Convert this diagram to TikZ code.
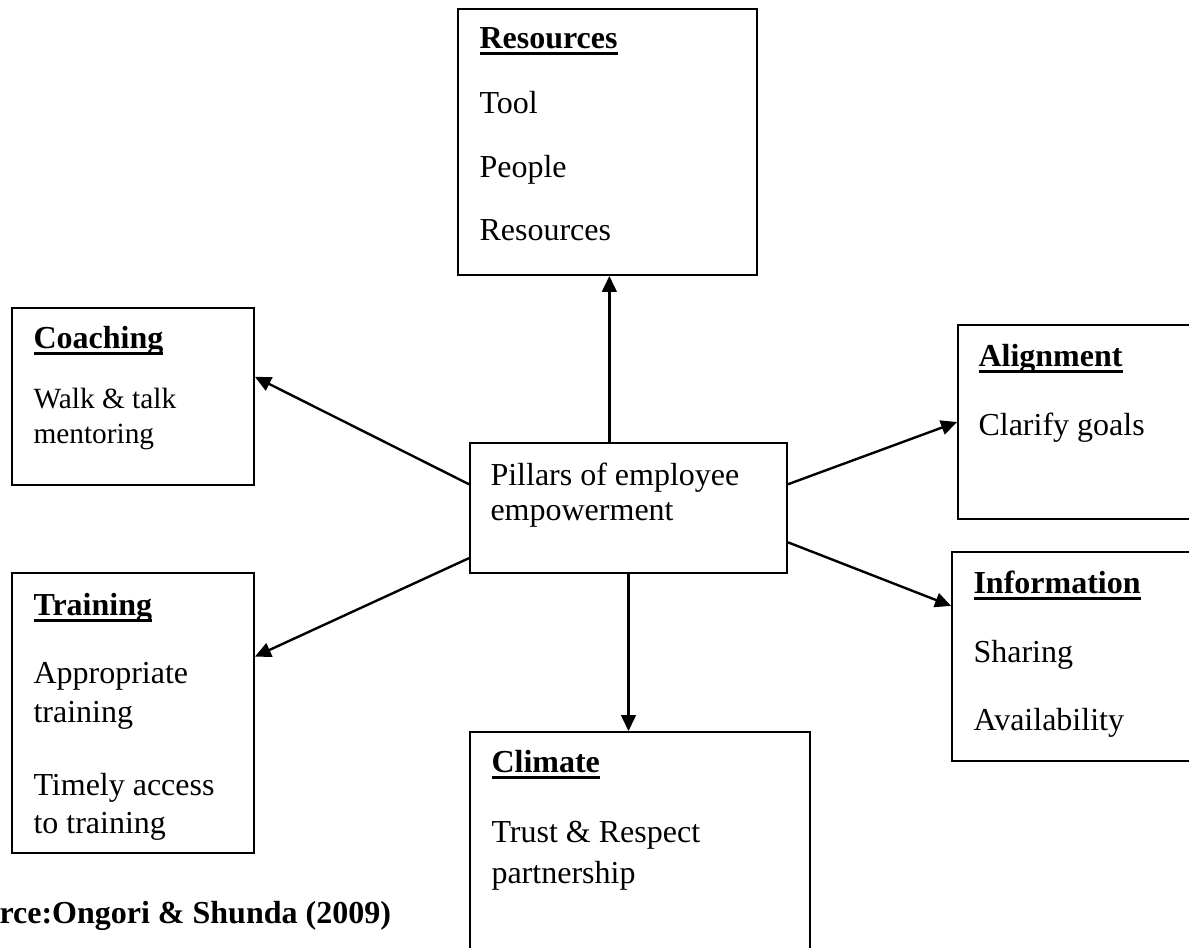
\documentclass[tikz,border=0pt]{standalone}
\usepackage{fontspec}
\setmainfont{Liberation Serif}
\usetikzlibrary{arrows.meta,fit,calc}

% bold heading with a heavy underline
\newcommand\ulhead[1]{\setbox0\hbox{\bfseries #1}\rlap{\rule[-2.8pt]{\wd0}{1.4pt}}\box0}

\tikzset{
  pillar/.style={draw, line width=0.7pt, inner sep=0pt},
  lbl/.style={anchor=base west, inner sep=0pt, font=\fontsize{12}{14}\selectfont},
  small/.style={lbl, font=\fontsize{11}{13}\selectfont},
  link/.style={line width=0.9pt, -{Triangle[length=6pt,width=5.5pt]}}
}

\begin{document}
\begin{tikzpicture}[x=0.375pt, y=-0.375pt]
  \useasboundingbox (0,0) rectangle (1189,947);
  \clip (0,0) rectangle (1189,947);

  % boxes
  \node[pillar, fit={(470,443) (787,573)}] (pil) {};
  \node[pillar, fit={(458,9) (757,275)}] (res) {};
  \node[pillar, fit={(12,308) (254,485)}] (coach) {};
  \node[pillar, fit={(12,573) (254,853)}] (train) {};
  \node[pillar, fit={(470,732) (810,1000)}] (clim) {};
  \node[pillar, fit={(958,325) (1260,519)}] (align) {};
  \node[pillar, fit={(952,552) (1260,761)}] (info) {};

  % texts
  \node[lbl] (pil-a) at (490,485) {Pillars of employee};
  \node[lbl] (pil-b) at (490,520) {empowerment};

  \node[lbl] (res-h) at (479,48) {\ulhead{Resources}};
  \node[lbl] (res-a) at (479,113) {Tool};
  \node[lbl] (res-b) at (479,177) {People};
  \node[lbl] (res-c) at (479,240) {Resources};

  \node[lbl] (coach-h) at (33,348) {\ulhead{Coaching}};
  \node[small] (coach-a) at (33,408) {Walk \& talk};
  \node[small] (coach-b) at (33,443) {mentoring};

  \node[lbl] (train-h) at (33,615) {\ulhead{Training}};
  \node[lbl] (train-a) at (33,683) {Appropriate};
  \node[lbl] (train-b) at (33,722) {training};
  \node[lbl] (train-c) at (33,795) {Timely access};
  \node[lbl] (train-d) at (33,833) {to training};

  \node[lbl] (clim-h) at (491,772) {\ulhead{Climate}};
  \node[lbl] (clim-a) at (491,842) {Trust \& Respect};
  \node[lbl] (clim-b) at (491,883) {partnership};

  \node[lbl] (align-h) at (978,366) {\ulhead{Alignment}};
  \node[lbl] (align-a) at (978,435) {Clarify goals};

  \node[lbl] (info-h) at (973,593) {\ulhead{Information}};
  \node[lbl] (info-a) at (973,662) {Sharing};
  \node[lbl] (info-b) at (973,730) {Availability};

  \node[lbl, font=\fontsize{12}{14}\selectfont\bfseries] (src) at (-1,923) {rce:Ongori \& Shunda (2009)};

  % arrows out of the centre box
  \coordinate (up) at ($(pil.north west)!0.44!(pil.north east)$);
  \draw[link] (up) -- (up |- res.south);
  \draw[link] (pil.south) -- (pil.south |- clim.north);
  \draw[link] ($(pil.north west)!0.32!(pil.south west)$) -- ($(coach.north east)!0.39!(coach.south east)$);
  \draw[link] ($(pil.north west)!0.88!(pil.south west)$) -- ($(train.north east)!0.3!(train.south east)$);
  \draw[link] ($(pil.north east)!0.32!(pil.south east)$) -- (align.west);
  \draw[link] ($(pil.north east)!0.76!(pil.south east)$) -- ($(info.north west)!0.26!(info.south west)$);
\end{tikzpicture}
\end{document}
